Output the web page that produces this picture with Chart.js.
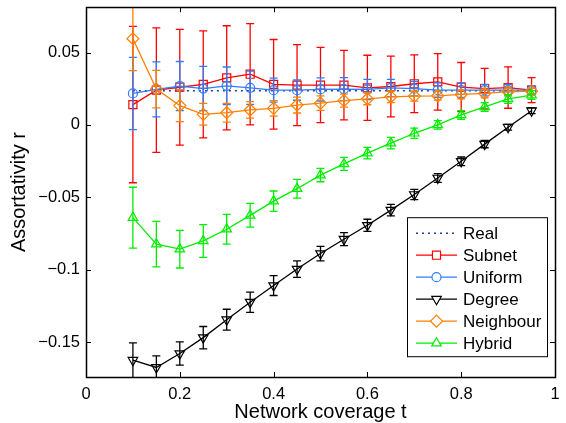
<!DOCTYPE html>
<html lang="en">
<head>
    <meta charset="UTF-8">
    <title>Assortativity vs network coverage</title>
    <script src="https://cdn.jsdelivr.net/npm/chart.js"></script>
    <style>
        html, body { margin: 0; padding: 0; background: #fff; }
        #wrap { width: 566px; height: 423px; }
    </style>
</head>
<body>
<div id="wrap"><canvas id="chart" width="566" height="423"></canvas></div>
<script>
// data
const coverage = [0.1, 0.15, 0.2, 0.25, 0.3, 0.35, 0.4, 0.45, 0.5, 0.55, 0.6, 0.65, 0.7, 0.75, 0.8, 0.85, 0.9, 0.95];

const real = [0.0235, 0.0235, 0.0235, 0.0235, 0.0235, 0.0235, 0.0235, 0.0235, 0.0235, 0.0235, 0.0235, 0.0235, 0.0235, 0.0235, 0.0235, 0.0235, 0.0235, 0.0235];

const subnet    = [0.014, 0.024, 0.026, 0.028, 0.0325, 0.035, 0.028, 0.0275, 0.0275, 0.0275, 0.0256, 0.0265, 0.0284, 0.0297, 0.0261, 0.0251, 0.0258, 0.024];
const subnetErr = [0.054, 0.043, 0.040, 0.037, 0.036, 0.035, 0.031, 0.028, 0.026, 0.024, 0.0225, 0.021, 0.020, 0.0195, 0.017, 0.014, 0.0143, 0.0086];

const uniform    = [0.0217, 0.0245, 0.0268, 0.0251, 0.027, 0.0256, 0.024, 0.024, 0.0245, 0.0247, 0.0245, 0.0255, 0.025, 0.024, 0.024, 0.024, 0.024, 0.024];
const uniformErr = [0.025, 0.019, 0.017, 0.0153, 0.013, 0.0115, 0.0083, 0.007, 0.008, 0.008, 0.007, 0.006, 0.005, 0.005, 0.005, 0.004, 0.004, 0.003];

const degree    = [-0.1626, -0.1676, -0.158, -0.147, -0.1346, -0.1225, -0.111, -0.0996, -0.0889, -0.079, -0.0694, -0.0589, -0.0481, -0.0367, -0.0252, -0.0133, -0.0016, 0.0098];
const degreeErr = [0.012, 0.008, 0.008, 0.0077, 0.0072, 0.007, 0.0069, 0.0057, 0.005, 0.0045, 0.0042, 0.004, 0.0035, 0.003, 0.003, 0.0025, 0.002, 0.002];

const neighbour    = [0.0595, 0.0247, 0.0133, 0.0073, 0.0084, 0.0103, 0.0114, 0.0137, 0.015, 0.0167, 0.0179, 0.0194, 0.0199, 0.0201, 0.021, 0.0217, 0.0229, 0.0233];
const neighbourErr = [0.022, 0.013, 0.011, 0.0075, 0.0065, 0.0057, 0.0054, 0.0055, 0.005, 0.0045, 0.004, 0.004, 0.0035, 0.003, 0.003, 0.003, 0.0025, 0.002];

const hybrid    = [-0.0641, -0.0824, -0.0859, -0.0802, -0.0721, -0.0625, -0.0527, -0.0441, -0.0347, -0.027, -0.0195, -0.0126, -0.0058, 0.0, 0.0069, 0.0124, 0.0179, 0.0206];
const hybridErr = [0.021, 0.0157, 0.013, 0.0113, 0.0103, 0.0082, 0.007, 0.0065, 0.0046, 0.0045, 0.004, 0.004, 0.0035, 0.003, 0.003, 0.003, 0.003, 0.003];

const xTicks = [0, 0.2, 0.4, 0.6, 0.8, 1];
const xTickLabels = ['0', '0.2', '0.4', '0.6', '0.8', '1'];
const yTicks = [-0.15, -0.1, -0.05, 0, 0.05];
const yTickLabels = ['\u22120.15', '\u22120.1', '\u22120.05', '0', '0.05'];

const FONT = 'Liberation Sans, Arial, Helvetica, sans-serif';

function pts(values) {
    return values.map((v, i) => ({ x: coverage[i], y: v }));
}

function series(label, values, err, color, style, radius, rotation) {
    return {
        label: label,
        data: pts(values),
        err: err,
        borderColor: color,
        backgroundColor: color,
        borderWidth: 1.3,
        pointStyle: style,
        pointRadius: radius,
        pointRotation: rotation || 0,
        pointBorderColor: color,
        pointBackgroundColor: 'rgba(0,0,0,0)',
        pointBorderWidth: 1.2,
        showLine: true,
        fill: false,
        tension: 0
    };
}

const datasets = [
    {
        label: 'Real',
        data: pts(real),
        borderColor: '#2a3a9c',
        borderWidth: 1.5,
        borderDash: [2, 4],
        pointRadius: 0,
        showLine: true,
        fill: false
    },
    series('Subnet', subnet, subnetErr, '#ff0000', 'rect', 5.7),
    series('Uniform', uniform, uniformErr, '#2b7fff', 'circle', 4.5),
    series('Degree', degree, degreeErr, '#000000', 'triangle', 5.5, 180),
    series('Neighbour', neighbour, neighbourErr, '#ff8000', 'rectRot', 6),
    series('Hybrid', hybrid, hybridErr, '#00ee00', 'triangle', 5.5)
];
datasets.forEach((d, i) => { d.order = datasets.length - i; });

// error bars, drawn just before each dataset
const errorBars = {
    id: 'errorBars',
    beforeDatasetDraw(chart, args) {
        const ds = chart.data.datasets[args.index];
        if (!ds.err) return;
        const ctx = chart.ctx;
        const xs = chart.scales.x, ys = chart.scales.y;
        const area = chart.chartArea;
        ctx.save();
        ctx.beginPath();
        ctx.rect(area.left, area.top, area.right - area.left, area.bottom - area.top);
        ctx.clip();
        ctx.strokeStyle = ds.borderColor;
        ctx.lineWidth = 1.3;
        ds.data.forEach((p, i) => {
            const x = xs.getPixelForValue(p.x);
            const y1 = ys.getPixelForValue(p.y + ds.err[i]);
            const y2 = ys.getPixelForValue(p.y - ds.err[i]);
            ctx.beginPath();
            ctx.moveTo(x, y1); ctx.lineTo(x, y2);
            ctx.moveTo(x - 4, y1); ctx.lineTo(x + 4, y1);
            ctx.moveTo(x - 4, y2); ctx.lineTo(x + 4, y2);
            ctx.stroke();
        });
        ctx.restore();
    }
};

// matlab style box with inward ticks plus legend inside the axes
const frame = {
    id: 'frame',
    afterDraw(chart) {
        const ctx = chart.ctx;
        const a = chart.chartArea;
        const xs = chart.scales.x, ys = chart.scales.y;
        ctx.save();
        ctx.strokeStyle = '#000';
        ctx.lineWidth = 1;
        ctx.beginPath();
        xTicks.forEach(v => {
            const x = Math.round(xs.getPixelForValue(v)) + 0.5;
            ctx.moveTo(x, a.bottom); ctx.lineTo(x, a.bottom - 5);
            ctx.moveTo(x, a.top); ctx.lineTo(x, a.top + 5);
        });
        yTicks.forEach(v => {
            const y = Math.round(ys.getPixelForValue(v)) + 0.5;
            ctx.moveTo(a.left, y); ctx.lineTo(a.left + 5, y);
            ctx.moveTo(a.right, y); ctx.lineTo(a.right - 5, y);
        });
        ctx.stroke();
        ctx.lineWidth = 1.5;
        ctx.strokeRect(Math.round(a.left) + 0.5, Math.round(a.top) + 0.5, Math.round(a.right - a.left), Math.round(a.bottom - a.top));

        // legend
        const lx = a.right - 148, ly = a.top + 210, lw = 140, lh = 139;
        ctx.fillStyle = '#fff';
        ctx.fillRect(lx, ly, lw, lh);
        ctx.lineWidth = 1;
        ctx.strokeRect(lx + 0.5, ly + 0.5, lw, lh);
        ctx.font = '17px ' + FONT;
        ctx.textBaseline = 'middle';
        chart.data.datasets.forEach((ds, i) => {
            const cy = ly + 16 + i * 22;
            ctx.save();
            ctx.strokeStyle = ds.borderColor;
            ctx.lineWidth = ds.borderWidth;
            ctx.setLineDash(ds.borderDash || []);
            ctx.beginPath();
            ctx.moveTo(lx + 9, cy); ctx.lineTo(lx + 50, cy);
            ctx.stroke();
            ctx.restore();
            if (ds.pointRadius) {
                ctx.save();
                ctx.strokeStyle = ds.borderColor;
                ctx.fillStyle = '#fff';
                ctx.lineWidth = ds.pointBorderWidth;
                Chart.helpers.drawPoint(ctx, {
                    pointStyle: ds.pointStyle,
                    rotation: ds.pointRotation,
                    radius: ds.pointRadius,
                    borderWidth: ds.pointBorderWidth
                }, lx + 29.5, cy);
                ctx.restore();
            }
            ctx.fillStyle = '#000';
            ctx.fillText(ds.label, lx + 56, cy + 1);
        });
        ctx.restore();
    }
};

new Chart(document.getElementById('chart').getContext('2d'), {
    type: 'scatter',
    data: { datasets: datasets },
    options: {
        responsive: false,
        animation: false,
        devicePixelRatio: 1,
        layout: { padding: { top: 5, right: 11, left: 0, bottom: 0 } },
        plugins: {
            legend: { display: false },
            tooltip: { enabled: false }
        },
        scales: {
            x: {
                type: 'linear',
                min: 0,
                max: 1,
                afterBuildTicks: s => { s.ticks = xTicks.map(v => ({ value: v })); },
                afterFit: s => { s.height = 46; s.paddingLeft = 0; s.paddingRight = 0; },
                grid: { display: false, drawTicks: false },
                border: { display: false },
                ticks: {
                    padding: 8,
                    color: '#000',
                    font: { family: FONT, size: 16.5 },
                    maxRotation: 0,
                    callback: (v, i) => xTickLabels[i]
                },
                title: {
                    display: true,
                    text: 'Network coverage t',
                    color: '#000',
                    font: { family: FONT, size: 20, lineHeight: 1.1 },
                    padding: { top: 0, bottom: 0 }
                }
            },
            y: {
                type: 'linear',
                min: -0.1742,
                max: 0.0813,
                afterBuildTicks: s => { s.ticks = yTicks.map(v => ({ value: v })); },
                afterFit: s => { s.width = 86; s.paddingTop = 0; s.paddingBottom = 0; },
                grid: { display: false, drawTicks: false },
                border: { display: false },
                ticks: {
                    padding: 6,
                    color: '#000',
                    font: { family: FONT, size: 16.5 },
                    callback: (v, i) => yTickLabels[i]
                },
                title: {
                    display: true,
                    text: 'Assortativity r',
                    color: '#000',
                    font: { family: FONT, size: 20 },
                    padding: { top: 7, bottom: 0 }
                }
            }
        }
    },
    plugins: [errorBars, frame]
});
</script>
</body>
</html>
